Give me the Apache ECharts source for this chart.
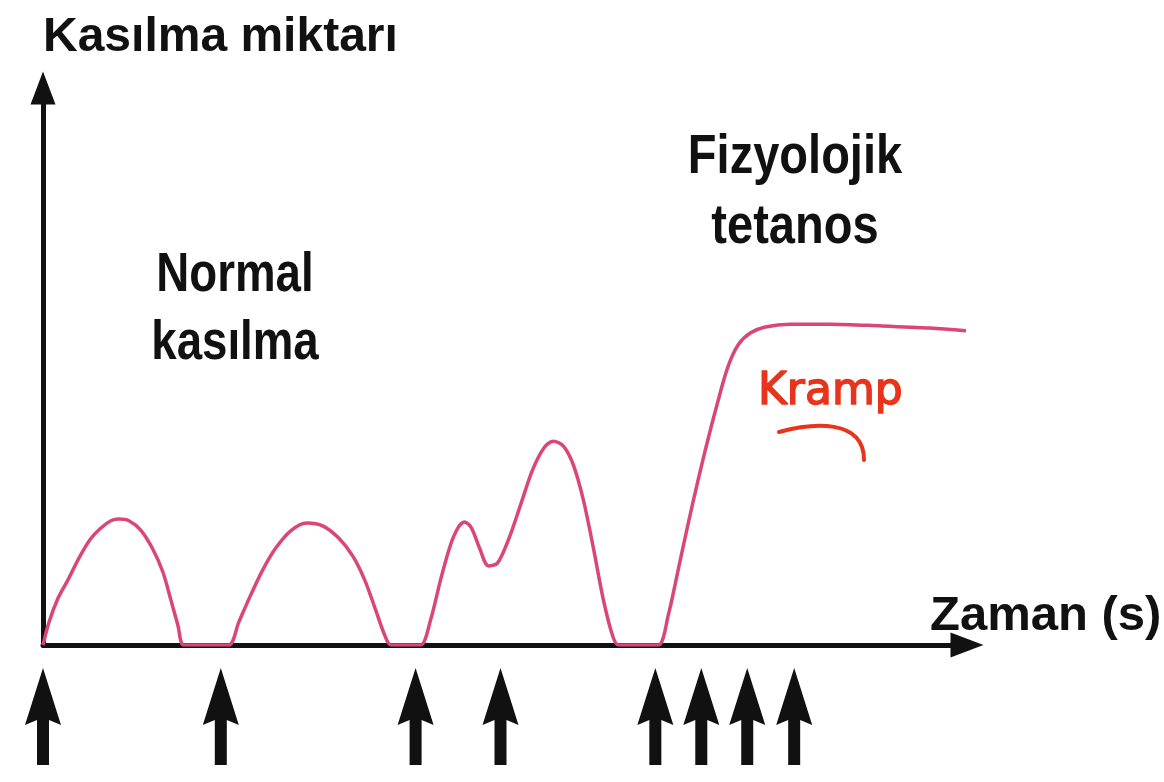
<!DOCTYPE html>
<html>
<head>
<meta charset="utf-8">
<script src="https://cdn.jsdelivr.net/npm/echarts@6/dist/echarts.min.js"></script>
<style>
  html, body { margin: 0; padding: 0; background: #fff; }
  #chart { width: 1164px; height: 782px; }
</style>
</head>
<body>
<div id="chart"></div>
<script>
// ---- data ----
const yAxisTitle = 'Kasılma miktarı';
const xAxisTitle = 'Zaman (s)';
const labelNormal = 'Normal\nkasılma';
const labelTetanos = 'Fizyolojik\ntetanos';
const labelKramp = 'Kramp';

// time (arbitrary units) and contraction amount (arbitrary units, 0-100)
const timeS = [
  0, 0.6, 1.5, 2.5, 3.6, 4.7, 5.8, 6.8, 7.6, 8.6, 9.8, 11.0, 12.0, 12.8, 13.5, 14.1,
  16.3, 18.6,
  19.6, 20.8, 22.0, 23.3, 24.8, 26.4, 28.0, 29.6, 31.0, 32.2, 33.3, 34.2, 34.8,
  36.3, 37.8,
  38.8, 39.8, 40.8, 41.6, 42.2, 42.9, 43.7, 44.6, 45.5, 46.6, 47.8, 49.0, 50.2, 51.1,
  52.1, 53.1, 54.1, 55.1, 56.1, 57.0, 57.6,
  59.8, 61.6,
  62.6, 63.8, 65.0, 66.3, 67.6, 68.6, 69.6, 70.8, 72.3, 74.8, 78.8, 83.8, 88.8, 92.4
];
const contraction = [
  0, 4.1, 8.4, 11.7, 15.6, 18.9, 21.0, 22.3, 22.6, 22.3, 20.6, 17.2, 13.1, 8.1, 3.6, 0,
  0, 0,
  4.1, 9.0, 13.5, 17.4, 20.5, 21.9, 21.4, 19.2, 16.0, 11.7, 6.3, 1.8, 0,
  0, 0,
  4.5, 11.7, 18.0, 21.2, 22.1, 21.0, 17.4, 14.2, 14.7, 18.9, 25.1, 31.4, 35.5, 36.6,
  35.7, 32.3, 26.0, 17.4, 8.1, 1.8, 0,
  0, 0,
  5.4, 15.3, 25.1, 35.0, 44.0, 50.1, 53.9, 56.0, 57.1, 57.6, 57.6, 57.3, 56.9, 56.4
];
// stimulus arrows below the time axis
const stimulusTimes = [0, 17.8, 37.3, 45.8, 61.3, 65.9, 70.5, 75.2];

const X_MAX = 92.5;
const Y_MAX = 100;

const curveData = timeS.map((t, i) => [t, contraction[i]]);
const stimData = stimulusTimes.map(t => [t, 0.5]);

const chart = echarts.init(document.getElementById('chart'), null, { renderer: 'canvas' });

const arrowPath = 'path://M18,0 L36,57 L24,52 L24,97 L12,97 L12,52 L0,57 Z';
const labelFont = '"Liberation Sans", Arial, sans-serif';

chart.setOption({
  backgroundColor: '#ffffff',
  animation: false,
  grid: [
    { left: 43, right: 1164 - 967, top: 88, bottom: 137, containLabel: false, outerBoundsMode: 'none' },
    { left: 43, right: 1164 - 967, top: 668, height: 97, containLabel: false, outerBoundsMode: 'none' }
  ],
  xAxis: [
    {
      type: 'value', gridIndex: 0, min: 0, max: X_MAX,
      name: xAxisTitle,
      nameLocation: 'end',
      nameGap: -37,
      nameTextStyle: {
        fontFamily: labelFont,
        fontWeight: 'bold', fontSize: 49, color: '#111',
        align: 'left', verticalAlign: 'bottom', lineHeight: 58
      },
      axisLine: { show: true, onZero: false,
        lineStyle: { color: '#111', width: 5 },
        symbol: ['none', 'triangle'], symbolSize: [25, 33] },
      axisTick: { show: false }, axisLabel: { show: false }, splitLine: { show: false }
    },
    {
      type: 'value', gridIndex: 1, min: 0, max: X_MAX, show: false
    }
  ],
  yAxis: [
    {
      type: 'value', gridIndex: 0, min: 0, max: Y_MAX,
      name: yAxisTitle,
      nameLocation: 'end',
      nameGap: 50,
      nameTextStyle: {
        fontFamily: labelFont,
        fontWeight: 'bold', fontSize: 48, color: '#111',
        align: 'left', verticalAlign: 'middle'
      },
      axisLine: { show: true, onZero: false,
        lineStyle: { color: '#111', width: 5 },
        symbol: ['none', 'triangle'], symbolSize: [25, 33] },
      axisTick: { show: false }, axisLabel: { show: false }, splitLine: { show: false }
    },
    { type: 'value', gridIndex: 1, min: 0, max: 1, show: false }
  ],
  series: [
    {
      type: 'line', xAxisIndex: 0, yAxisIndex: 0,
      data: curveData,
      smooth: 0.3,
      showSymbol: false,
      lineStyle: { color: '#d94677', width: 3.5 },
      z: 5
    },
    {
      type: 'scatter', xAxisIndex: 1, yAxisIndex: 1,
      data: stimData,
      symbol: arrowPath,
      symbolSize: [36, 97],
      itemStyle: { color: '#111', opacity: 1 },
      clip: false,
      silent: true
    }
  ],
  graphic: [
    {
      type: 'text', x: 235, y: 310, scaleX: 0.83,
      style: {
        text: labelNormal,
        fontFamily: labelFont,
        fontWeight: 'bold', fontSize: 55, lineHeight: 68,
        fill: '#111', align: 'center', verticalAlign: 'middle'
      }
    },
    {
      type: 'text', x: 795, y: 193, scaleX: 0.84,
      style: {
        text: labelTetanos,
        fontFamily: labelFont,
        fontWeight: 'bold', fontSize: 56, lineHeight: 70,
        fill: '#111', align: 'center', verticalAlign: 'middle'
      }
    },
    {
      type: 'text', x: 758, y: 393,
      style: {
        text: labelKramp,
        fontFamily: '"DejaVu Sans", sans-serif',
        fontSize: 44,
        fill: '#e8341c', stroke: '#e8341c', lineWidth: 1.5,
        align: 'left', verticalAlign: 'middle'
      }
    },
    {
      type: 'bezierCurve',
      shape: { x1: 779, y1: 432, cpx1: 812, cpy1: 423, cpx2: 864, cpy2: 418, x2: 864, y2: 460 },
      style: { stroke: '#e8341c', lineWidth: 4, fill: null, lineCap: 'round' }
    }
  ]
});
</script>
</body>
</html>
